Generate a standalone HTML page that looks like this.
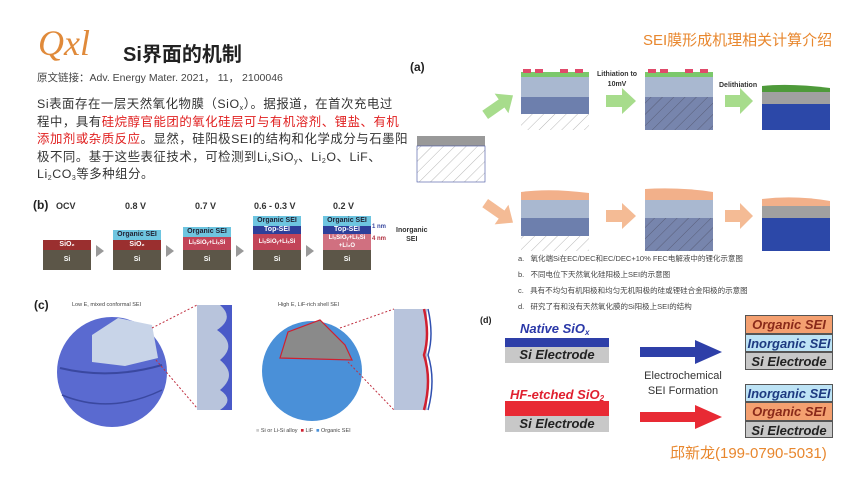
<!DOCTYPE html>
<html><head><meta charset="utf-8"><style>
*{margin:0;padding:0;box-sizing:border-box}
body{width:860px;height:484px;background:#fff;position:relative;overflow:hidden;font-family:"Liberation Sans","Noto Sans CJK SC",sans-serif;color:#333}
.a{position:absolute}
.cn{font-family:"Liberation Sans","Noto Sans CJK SC",sans-serif}
sub{line-height:0;vertical-align:-2px}
.bx{position:absolute;font-size:7px;color:#fff;text-align:center;font-weight:bold}
.lbl{position:absolute;font-size:9px;font-weight:bold;color:#333}
.red{color:#e02020}
.gar{position:absolute;width:0;height:0;border-top:6px solid transparent;border-bottom:6px solid transparent;border-left:8px solid #999}
.cap{position:absolute;left:518px;font-size:7.5px;color:#444;white-space:nowrap}
.st{position:absolute;font-style:italic;font-weight:bold;font-size:13px;text-align:center;border:1px solid #555;line-height:17px}
.pl{display:block;white-space:nowrap;height:17.5px}
</style></head><body>
<div class="a" style="left:38px;top:22px;font-family:'Liberation Serif',serif;font-style:italic;font-size:36px;color:#e08a3a">Qxl</div>
<div class="a cn" style="left:123px;top:38px;font-size:20px;font-weight:bold;color:#222">Si界面的机制</div>
<div class="a cn" style="left:643px;top:29px;font-size:15px;color:#e8872e">SEI膜形成机理相关计算介绍</div>
<div class="a cn" style="left:37px;top:70px;font-size:10.5px;color:#444">原文链接：Adv. Energy Mater. 2021， 11， 2100046</div>
<div class="a cn" style="left:37px;top:96px;font-size:12.4px;line-height:17.5px;color:#333;letter-spacing:0.55px">
<span class="pl">Si表面存在一层天然氧化物膜（SiO<sub style="font-size:7px">x</sub>）。据报道，在首次充电过</span>
<span class="pl">程中，具有<span class="red">硅烷醇官能团的氧化硅层可与有机溶剂、锂盐、有机</span></span>
<span class="pl"><span class="red">添加剂或杂质反应</span>。显然，硅阳极SEI的结构和化学成分与石墨阳</span>
<span class="pl">极不同。基于这些表征技术，可检测到Li<sub style="font-size:7px">x</sub>SiO<sub style="font-size:7px">y</sub>、Li<sub style="font-size:7px">2</sub>O、LiF、</span>
<span class="pl">Li<sub style="font-size:7px">2</sub>CO<sub style="font-size:7px">3</sub>等多种组分。</span>
</div>

<div class="a" style="left:33px;top:198px;font-size:12px;font-weight:bold;color:#222">(b)</div>
<div class="lbl" style="left:56px;top:201px">OCV</div>
<div class="lbl" style="left:125px;top:201px">0.8 V</div>
<div class="lbl" style="left:195px;top:201px">0.7 V</div>
<div class="lbl" style="left:254px;top:201px">0.6 - 0.3 V</div>
<div class="lbl" style="left:333px;top:201px">0.2 V</div>
<div class="bx" style="left:43px;top:240px;width:48px;height:10px;background:#9a2f2f;line-height:10px">SiO₂</div>
<div class="bx" style="left:43px;top:250px;width:48px;height:20px;background:#5c5648;line-height:20px">Si</div>
<div class="gar" style="left:96px;top:245px"></div>
<div class="bx" style="left:113px;top:230px;width:48px;height:10px;background:#6ec5e0;color:#223;line-height:10px">Organic SEI</div>
<div class="bx" style="left:113px;top:240px;width:48px;height:10px;background:#9a2f2f;line-height:10px">SiO₂</div>
<div class="bx" style="left:113px;top:250px;width:48px;height:20px;background:#5c5648;line-height:20px">Si</div>
<div class="gar" style="left:166px;top:245px"></div>
<div class="bx" style="left:183px;top:227px;width:48px;height:10px;background:#6ec5e0;color:#223;line-height:10px">Organic SEI</div>
<div class="bx" style="left:183px;top:237px;width:48px;height:13px;background:#c24458;line-height:13px;font-size:6px">LiₓSiOᵧ+LiₓSi</div>
<div class="bx" style="left:183px;top:250px;width:48px;height:20px;background:#5c5648;line-height:20px">Si</div>
<div class="gar" style="left:236px;top:245px"></div>
<div class="bx" style="left:253px;top:216px;width:48px;height:10px;background:#6ec5e0;color:#223;line-height:10px">Organic SEI</div>
<div class="bx" style="left:253px;top:226px;width:48px;height:8px;background:#2e3f9a;line-height:8px">Top-SEI</div>
<div class="bx" style="left:253px;top:234px;width:48px;height:16px;background:#c24458;line-height:16px;font-size:6px">LiₓSiOᵧ+LiₓSi</div>
<div class="bx" style="left:253px;top:250px;width:48px;height:20px;background:#5c5648;line-height:20px">Si</div>
<div class="gar" style="left:306px;top:245px"></div>
<div class="bx" style="left:323px;top:216px;width:48px;height:10px;background:#6ec5e0;color:#223;line-height:10px">Organic SEI</div>
<div class="bx" style="left:323px;top:226px;width:48px;height:8px;background:#2e3f9a;line-height:8px">Top-SEI</div>
<div class="bx" style="left:323px;top:234px;width:48px;height:16px;background:#d07080;line-height:8px;font-size:6px">LiₓSiOᵧ+LiₓSi<br>+Li₂O</div>
<div class="bx" style="left:323px;top:250px;width:48px;height:20px;background:#5c5648;line-height:20px">Si</div>
<div class="a" style="left:372px;top:224px;font-size:6px;color:#3a4aa0;font-weight:bold">1 nm</div>
<div class="a" style="left:372px;top:236px;font-size:6px;color:#b03040;font-weight:bold">4 nm</div>
<div class="a" style="left:396px;top:226px;font-size:7px;font-weight:bold;line-height:9px;text-align:center">Inorganic<br>SEI</div>

<div class="a" style="left:410px;top:60px;font-size:12px;font-weight:bold;color:#222">(a)</div>
<svg class="a" style="left:410px;top:55px" width="430" height="200">
<defs><pattern id="h" width="8" height="8" patternUnits="userSpaceOnUse" patternTransform="rotate(45)"><rect width="8" height="8" fill="#fff"/><line x1="0" y1="0" x2="0" y2="8" stroke="#888" stroke-width="0.6"/></pattern>
<pattern id="h2" width="8" height="8" patternUnits="userSpaceOnUse" patternTransform="rotate(45)"><rect width="8" height="8" fill="#7785ad"/><line x1="0" y1="0" x2="0" y2="8" stroke="#445" stroke-width="0.6"/></pattern></defs>
<rect x="7" y="81" width="68" height="10" fill="#999"/><rect x="7" y="91" width="68" height="36" fill="url(#h)" stroke="#4050a0" stroke-width="0.6"/>
<rect x="111" y="17" width="68" height="5" fill="#7bc86b"/><rect x="111" y="22" width="68" height="20" fill="#a9b8d0"/><rect x="111" y="42" width="68" height="17" fill="#6d7fad"/><rect x="111" y="59" width="68" height="16" fill="url(#h)"/>
<rect x="113" y="14" width="8" height="4" fill="#e04a6a"/><rect x="125" y="14" width="8" height="4" fill="#e04a6a"/><rect x="150" y="14" width="8" height="4" fill="#e04a6a"/><rect x="165" y="14" width="8" height="4" fill="#e04a6a"/>
<polygon points="-12,-5 8,-5 8,-12 22,0 8,12 8,5 -12,5" fill="#a7dc8c" transform="translate(85,53) rotate(-35)"/>
<rect x="235" y="17" width="68" height="5" fill="#7bc86b"/><rect x="235" y="22" width="68" height="20" fill="#a9b8d0"/><rect x="235" y="42" width="68" height="33" fill="url(#h2)"/>
<rect x="238" y="14" width="8" height="4" fill="#e04a6a"/><rect x="250" y="14" width="8" height="4" fill="#e04a6a"/><rect x="275" y="14" width="8" height="4" fill="#e04a6a"/><rect x="290" y="14" width="8" height="4" fill="#e04a6a"/>
<polygon points="196,40 212,40 212,33 226,46 212,59 212,52 196,52" fill="#a7dc8c"/>
<polygon points="315,40 330,40 330,33 343,46 330,59 330,52 315,52" fill="#a7dc8c"/>
<path d="M352 31 Q380 28 420 33 L420 37 L352 37Z" fill="#4e9a3a"/><rect x="352" y="37" width="68" height="12" fill="#a0a0a0"/><rect x="352" y="49" width="68" height="26" fill="#2c48a8"/>
<path d="M111 137 Q140 133 179 138 L179 145 L111 145Z" fill="#f2b08a"/><rect x="111" y="145" width="68" height="18" fill="#a9b8d0"/><rect x="111" y="163" width="68" height="18" fill="#6d7fad"/><rect x="111" y="181" width="68" height="15" fill="url(#h)"/>
<path d="M235 134 Q270 132 303 137 L303 145 L235 145Z" fill="#f2b08a"/><rect x="235" y="145" width="68" height="18" fill="#a9b8d0"/><rect x="235" y="163" width="68" height="33" fill="url(#h2)"/>
<polygon points="196,155 212,155 212,148 226,161 212,174 212,167 196,167" fill="#f4bb95"/>
<polygon points="315,155 330,155 330,148 343,161 330,174 330,167 315,167" fill="#f4bb95"/>
<polygon points="-12,-5 8,-5 8,-12 22,0 8,12 8,5 -12,5" fill="#f4bb95" transform="translate(85,155) rotate(35)"/>
<path d="M352 144 Q385 140 420 146 L420 151 L352 151Z" fill="#f2b08a"/><rect x="352" y="151" width="68" height="12" fill="#a0a0a0"/><rect x="352" y="163" width="68" height="33" fill="#2c48a8"/>
</svg>
<div class="a" style="left:597px;top:70px;font-size:7px;font-weight:bold;text-align:center;line-height:10px">Lithiation to<br>10mV</div>
<div class="a" style="left:719px;top:82px;font-size:7px;font-weight:bold">Delithiation</div>
<div class="cap cn" style="top:253px">a.&nbsp;&nbsp;&nbsp;氧化端Si在EC/DEC和EC/DEC+10% FEC电解液中的锂化示意图</div>
<div class="cap cn" style="top:269px">b.&nbsp;&nbsp;&nbsp;不同电位下天然氧化硅阳极上SEI的示意图</div>
<div class="cap cn" style="top:285px">c.&nbsp;&nbsp;&nbsp;具有不均匀有机阳极和均匀无机阳极的硅或锂硅合金阳极的示意图</div>
<div class="cap cn" style="top:301px">d.&nbsp;&nbsp;&nbsp;研究了有和没有天然氧化膜的Si阳极上SEI的结构</div>

<div class="a" style="left:34px;top:298px;font-size:12px;font-weight:bold;color:#222">(c)</div>
<div class="a" style="left:72px;top:302px;font-size:5.5px;color:#444">Low E, mixed conformal SEI</div>
<div class="a" style="left:278px;top:302px;font-size:5.5px;color:#444">High E, LiF-rich shell SEI</div>
<svg class="a" style="left:40px;top:300px" width="420" height="140">
<circle cx="72" cy="72" r="55" fill="#5a6ad0"/>
<path d="M52 35 L78 18 L112 25 L118 58 L85 66 L52 62Z" fill="#c8d4e8"/>
<path d="M20 68 Q70 80 122 65" stroke="#3a48a0" stroke-width="2" fill="none"/>
<path d="M22 95 Q70 115 122 90" stroke="#3a48a0" stroke-width="1.5" fill="none"/>
<line x1="112" y1="28" x2="157" y2="5" stroke="#c03040" stroke-dasharray="2 2"/><line x1="116" y1="60" x2="157" y2="108" stroke="#c03040" stroke-dasharray="2 2"/>
<rect x="157" y="5" width="33" height="105" fill="#b8c4dc"/>
<path d="M180 5 Q195 18 177 30 Q198 45 180 60 Q198 75 180 90 Q195 100 180 110 L192 110 L192 5Z" fill="#4a5ac8"/>
<circle cx="272" cy="71" r="50" fill="#4a90d8"/>
<path d="M240 58 L248 32 L280 20 L305 45 L312 60 Z" fill="#8a8a8a" stroke="#d02030" stroke-width="1.2"/>
<line x1="300" y1="28" x2="354" y2="9" stroke="#c03040" stroke-dasharray="2 2"/><line x1="308" y1="62" x2="354" y2="110" stroke="#c03040" stroke-dasharray="2 2"/>
<rect x="354" y="9" width="33" height="101" fill="#b8c4dc"/>
<path d="M384 9 Q390 35 384 55 Q392 80 384 110" stroke="#d02030" stroke-width="2.5" fill="none"/>
<path d="M388 9 Q394 35 388 55 Q396 80 388 110" stroke="#3050b0" stroke-width="1.5" fill="none"/>
</svg>
<div class="a" style="left:256px;top:428px;font-size:5.5px;color:#444"><span style="color:#ccc">■</span> Si or Li-Si alloy &nbsp;<span style="color:#d02030">■</span> LiF &nbsp;<span style="color:#4a90d8">■</span> Organic SEI</div>

<div class="a" style="left:480px;top:315px;font-size:9px;font-weight:bold;color:#222">(d)</div>
<div class="a" style="left:520px;top:321px;font-size:13px;font-style:italic;font-weight:bold;color:#2a38a8">Native SiO<sub style="font-size:8px">x</sub></div>
<div class="a" style="left:505px;top:338px;width:104px;height:9px;background:#2e3fa8"></div>
<div class="st" style="left:505px;top:347px;width:104px;height:16px;background:#c8c8c8;border:none;line-height:16px;color:#222">Si Electrode</div>
<svg class="a" style="left:640px;top:340px" width="85" height="90">
<polygon points="0,7 55,7 55,0 82,12 55,24 55,17 0,17" fill="#2e3fa8"/>
<polygon points="0,72 55,72 55,65 82,77 55,89 55,82 0,82" fill="#e82a34"/>
</svg>
<div class="a" style="left:628px;top:369px;width:110px;text-align:center;font-size:11px;line-height:15px;color:#333">Electrochemical<br>SEI Formation</div>
<div class="a" style="left:510px;top:387px;font-size:13px;font-style:italic;font-weight:bold;color:#e02030">HF-etched SiO<sub style="font-size:8px">2</sub></div>
<div class="a" style="left:505px;top:401px;width:104px;height:15px;background:#e82a34"></div>
<div class="st" style="left:505px;top:416px;width:104px;height:16px;background:#c8c8c8;border:none;line-height:16px;color:#222">Si Electrode</div>
<div class="st" style="left:745px;top:315px;width:88px;height:19px;background:#f4a070;color:#8a2a1a">Organic SEI</div>
<div class="st" style="left:745px;top:334px;width:88px;height:18px;background:#bde3f5;color:#1e3a80">Inorganic SEI</div>
<div class="st" style="left:745px;top:352px;width:88px;height:18px;background:#c8c8c8;color:#222">Si Electrode</div>
<div class="st" style="left:745px;top:384px;width:88px;height:18px;background:#bde3f5;color:#1e3a80">Inorganic SEI</div>
<div class="st" style="left:745px;top:402px;width:88px;height:19px;background:#f4a070;color:#8a2a1a">Organic SEI</div>
<div class="st" style="left:745px;top:421px;width:88px;height:17px;background:#c8c8c8;color:#222">Si Electrode</div>

<div class="a cn" style="left:670px;top:442px;font-size:15px;color:#e8872e">邱新龙(199-0790-5031)</div>
</body></html>
